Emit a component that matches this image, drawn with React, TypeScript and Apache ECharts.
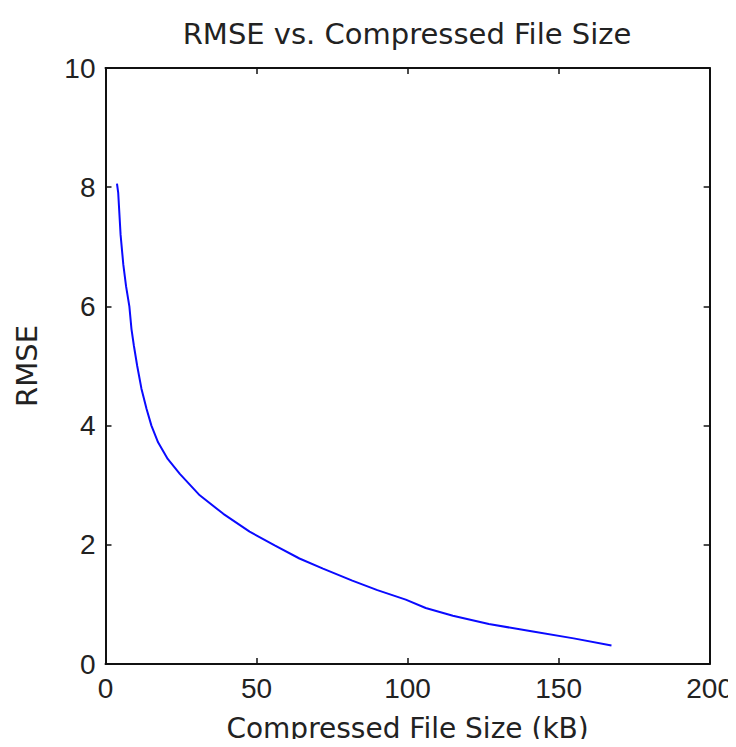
import React, { useEffect, useRef } from "react";
import * as echarts from "echarts";

const fileSizeKB = [3.8, 4.2, 5.0, 5.9, 6.8, 7.9, 8.6, 9.4, 10.5, 11.9, 13.6, 15.2, 17.4, 20.6, 24.6, 31.2, 39, 47.7, 56, 64.2, 72, 81.7, 90, 99.4, 106, 115, 126.9, 141, 155, 167.5];
const rmse = [8.06, 7.91, 7.2, 6.7, 6.34, 6.0, 5.62, 5.34, 5.0, 4.62, 4.28, 4.0, 3.72, 3.44, 3.19, 2.83, 2.52, 2.22, 1.99, 1.77, 1.6, 1.4, 1.24, 1.08, 0.94, 0.81, 0.67, 0.55, 0.43, 0.31];

const titleText = "RMSE vs. Compressed File Size";
const xName = "Compressed File Size (kB)";
const yName = "RMSE";

const FONT = "'DejaVu Sans', sans-serif";
const NUMFONT = "'Liberation Sans', Arial, sans-serif";
const TXT = "#222";

export default function App() {
  const ref = useRef<HTMLDivElement>(null);
  useEffect(() => {
    const chart = echarts.init(ref.current!, null, { renderer: "svg" });
    const axisLine = { show: true, onZero: false, lineStyle: { color: "#111", width: 2 } };
    const tickIn = { show: true, inside: true, length: 6, lineStyle: { color: "#111", width: 1.5 } };
    chart.setOption({
      animation: false,
      backgroundColor: "#fff",
      graphic: [
        {
          type: "text",
          x: 407,
          y: 34,
          style: {
            text: titleText,
            fontFamily: FONT,
            fontSize: 29,
            fill: TXT,
            textAlign: "center",
            textVerticalAlign: "middle",
          },
        },
      ],
      grid: { left: 105.5, right: 25, top: 68, bottom: 81 },
      xAxis: [
        {
          type: "value",
          min: 0,
          max: 200,
          interval: 50,
          name: xName,
          nameLocation: "middle",
          nameGap: 50,
          nameTextStyle: { fontFamily: FONT, fontSize: 28, color: TXT },
          axisLine,
          axisTick: tickIn,
          axisLabel: { fontFamily: NUMFONT, fontSize: 28, color: TXT, margin: 10 },
          splitLine: { show: false },
        },
        {
          type: "value",
          position: "top",
          min: 0,
          max: 200,
          interval: 50,
          axisLine,
          axisTick: tickIn,
          axisLabel: { show: false },
          splitLine: { show: false },
        },
      ],
      yAxis: [
        {
          type: "value",
          min: 0,
          max: 10,
          interval: 2,
          name: yName,
          nameLocation: "middle",
          nameGap: 64,
          nameTextStyle: { fontFamily: FONT, fontSize: 29, color: TXT },
          axisLine,
          axisTick: tickIn,
          axisLabel: { fontFamily: NUMFONT, fontSize: 28, color: TXT, margin: 10 },
          splitLine: { show: false },
        },
        {
          type: "value",
          position: "right",
          min: 0,
          max: 10,
          interval: 2,
          axisLine,
          axisTick: tickIn,
          axisLabel: { show: false },
          splitLine: { show: false },
        },
      ],
      series: [
        {
          type: "line",
          data: fileSizeKB.map((x, i) => [x, rmse[i]]),
          showSymbol: false,
          smooth: false,
          lineStyle: { color: "#0a0aff", width: 2 },
        },
      ],
    });
    return () => chart.dispose();
  }, []);
  return <div ref={ref} style={{ width: 736, height: 747, margin: -8 }} />;
}
